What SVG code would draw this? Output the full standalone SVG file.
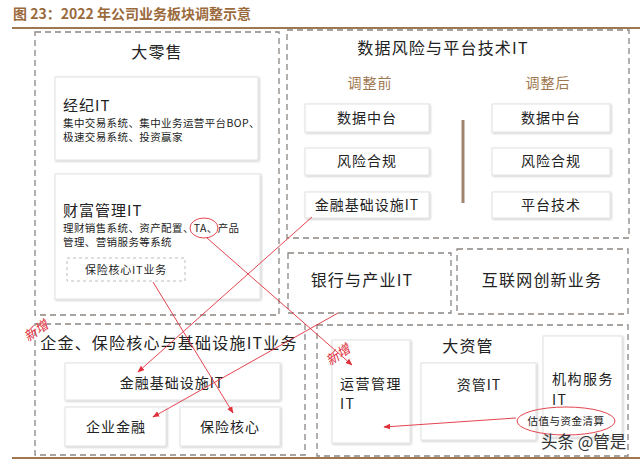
<svg xmlns="http://www.w3.org/2000/svg" width="640" height="463" viewBox="0 0 640 463">
<defs>
<filter id="sh" x="-10%" y="-10%" width="120%" height="130%">
<feDropShadow dx="1" dy="1" stdDeviation="1.2" flood-color="#000" flood-opacity="0.22"/>
</filter>
<marker id="ar" viewBox="0 0 10 10" refX="9" refY="5" markerWidth="7" markerHeight="7" orient="auto" markerUnits="userSpaceOnUse">
<path d="M0,1 L10,5 L0,9 z" fill="#e0303c"/>
</marker>
<style>
text{font-family:"Noto Sans CJK SC","Noto Sans",sans-serif;fill:#222;}
.ttl{font-size:14px;font-weight:bold;fill:#9a6a3c;}
.dash{fill:none;stroke:#8c8580;stroke-width:1.3;stroke-dasharray:6,4;}
.dashl{fill:#fff;stroke:#bdbdbd;stroke-width:1;stroke-dasharray:3,3;}
.box{fill:#fff;stroke:#e2e2e2;stroke-width:1;filter:url(#sh);}
.h{font-size:16px;letter-spacing:1.2px;text-anchor:middle;}
.b{font-size:14px;letter-spacing:1px;text-anchor:middle;}
.s{font-size:10.5px;letter-spacing:0.4px;}
.m{font-size:14px;letter-spacing:1.5px;}
.sub{font-size:14px;letter-spacing:1px;text-anchor:middle;fill:#a07850;}
.red{fill:none;stroke:#e0303c;stroke-width:0.9;}
.new{font-size:13px;fill:#e0303c;font-style:italic;}
</style>
</defs>

<g id="title">
<text class="ttl" x="13" y="19">图 23：2022 年公司业务板块调整示意</text>
<line x1="12" y1="28" x2="640" y2="28" stroke="#a07850" stroke-width="2"/>
<line x1="12" y1="458" x2="640" y2="458" stroke="#a07850" stroke-width="2"/>
</g>

<g id="retail">
<rect class="dash" x="35" y="32" width="244" height="283"/>
<text class="h" x="157" y="58">大零售</text>
</g>
<g id="brokerage">
<rect class="box" x="55" y="77" width="203" height="83"/>
<text x="63" y="111" style="font-size:15px;letter-spacing:1px">经纪IT</text>
<text class="s" x="63" y="127">集中交易系统、集中业务运营平台BOP、</text>
<text class="s" x="63" y="141">极速交易系统、投资赢家</text>
</g>
<g id="wealth">
<rect class="box" x="55" y="174" width="205" height="125"/>
<text x="63" y="216" style="font-size:15px;letter-spacing:1px">财富管理IT</text>
<text class="s" x="63" y="232">理财销售系统、资产配置、TA、产品</text>
<text class="s" x="63" y="246">管理、营销服务等系统</text>
<ellipse cx="204" cy="228" rx="14" ry="10" class="red" stroke-width="1.2"/>
</g>
<g id="insurance-core-old">
<rect class="dashl" x="67" y="258" width="118" height="23"/>
<text x="126" y="274" style="font-size:11px;letter-spacing:0.8px;text-anchor:middle">保险核心IT业务</text>
</g>

<g id="data-platform">
<rect class="dash" x="287" y="30" width="342" height="208"/>
<text class="h" x="443" y="54">数据风险与平台技术IT</text>
<text class="sub" x="370" y="88">调整前</text>
<text class="sub" x="548" y="88">调整后</text>
<line x1="463" y1="120" x2="463" y2="203" stroke="#a08470" stroke-width="3"/>
</g>
<g id="before-data"><rect class="box" x="305" y="104" width="124" height="28"/><text class="b" x="367" y="123">数据中台</text></g>
<g id="before-risk"><rect class="box" x="305" y="148" width="124" height="27"/><text class="b" x="367" y="166">风险合规</text></g>
<g id="before-infra"><rect class="box" x="305" y="192" width="124" height="26"/><text class="b" x="367" y="210">金融基础设施IT</text></g>
<g id="after-data"><rect class="box" x="492" y="104" width="118" height="28"/><text class="b" x="551" y="123">数据中台</text></g>
<g id="after-risk"><rect class="box" x="492" y="148" width="118" height="27"/><text class="b" x="551" y="166">风险合规</text></g>
<g id="after-tech"><rect class="box" x="492" y="192" width="118" height="26"/><text class="b" x="551" y="210">平台技术</text></g>

<g id="bank">
<rect class="dash" x="288" y="253" width="163" height="60"/>
<text class="h" x="362" y="286">银行与产业IT</text>
</g>
<g id="internet">
<rect class="dash" x="457" y="249" width="171" height="65"/>
<text class="h" x="542" y="286">互联网创新业务</text>
</g>

<g id="corp">
<rect class="dash" x="35" y="324" width="270" height="131"/>
<text class="h" x="169" y="349">企金、保险核心与基础设施IT业务</text>
<text class="new" transform="translate(28,342) rotate(-35)">新增</text>
</g>
<g id="infra-new"><rect class="box" x="65" y="363" width="215" height="37"/><text class="b" x="172" y="388">金融基础设施IT</text></g>
<g id="corp-fin"><rect class="box" x="65" y="407" width="101" height="39"/><text class="b" x="116" y="432">企业金融</text></g>
<g id="ins-core"><rect class="box" x="180" y="407" width="100" height="39"/><text class="b" x="230" y="432">保险核心</text></g>

<g id="asset">
<rect class="dash" x="317" y="325" width="311" height="131"/>
<text class="h" x="468" y="352">大资管</text>
</g>
<g id="ops"><rect class="box" x="332" y="340" width="78" height="103"/>
<text class="m" x="340" y="389">运营管理</text>
<text class="m" x="340" y="409">IT</text></g>
<g id="am"><rect class="box" x="421" y="363" width="115" height="77"/><text class="b" x="479" y="390">资管IT</text></g>
<g id="inst"><rect class="box" x="543" y="336" width="79" height="101"/>
<text class="m" x="552" y="384">机构服务</text>
<text class="m" x="552" y="405">IT</text></g>
<g id="valuation">
<ellipse cx="566" cy="421" rx="49" ry="14" class="red" stroke-width="1.2"/>
<text x="566" y="425" style="font-size:10.5px;letter-spacing:0.5px;text-anchor:middle">估值与资金清算</text>
</g>
<text class="new" transform="translate(330,366) rotate(-35)">新增</text>
<text x="541" y="448" style="font-size:16.5px;fill:#333;">头条 @管是</text>

<g id="connectors">
<line class="red" x1="207" y1="238" x2="352" y2="365" marker-end="url(#ar)"/>
<line class="red" x1="312" y1="217" x2="138" y2="372" marker-end="url(#ar)"/>
<line class="red" x1="153" y1="282" x2="233" y2="413" marker-end="url(#ar)"/>
<line class="red" x1="338" y1="313" x2="153" y2="417" marker-end="url(#ar)"/>
<line class="red" x1="516" y1="418" x2="384" y2="427" marker-end="url(#ar)"/>
</g>
</svg>
